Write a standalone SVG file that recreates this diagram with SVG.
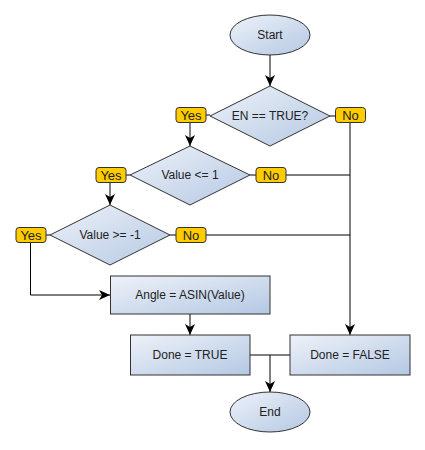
<svg xmlns="http://www.w3.org/2000/svg" width="425" height="450" viewBox="0 0 425 450">
<defs>
<linearGradient id="g" x1="0" y1="0" x2="1" y2="1">
<stop offset="0" stop-color="#EEF2F9"/>
<stop offset="1" stop-color="#B4C8E3"/>
</linearGradient>
<marker id="arr" markerWidth="12" markerHeight="10" refX="11" refY="5" orient="auto" markerUnits="userSpaceOnUse">
<path d="M0,0 L11,5 L0,10 L3,5 z" fill="#000"/>
</marker>
<style>
.shape{fill:url(#g);stroke:#333;stroke-width:1}
.lbl{fill:#FFCC00;stroke:#333;stroke-width:1}
.t{font-family:"Liberation Sans",Arial,sans-serif;font-size:12px;fill:#222;text-anchor:middle;dominant-baseline:central}
.tl{font-size:13px}
.c{fill:none;stroke:#000;stroke-width:1}
.a{marker-end:url(#arr)}
</style>
</defs>
<rect width="425" height="450" fill="#fff"/>
<g id="connectors">
<path class="c a" d="M270,55 V86"/>
<path class="c" d="M206,115 H210"/>
<path class="c a" d="M190,122 V146"/>
<path class="c" d="M330,116 H335"/>
<path class="c a" d="M350,122 V335"/>
<path class="c" d="M126,175 H130"/>
<path class="c" d="M250,175 H256"/>
<path class="c" d="M286,175 H350"/>
<path class="c a" d="M110,182 V205"/>
<path class="c" d="M46,235 H50"/>
<path class="c" d="M170,235 H176"/>
<path class="c" d="M206,235 H350"/>
<path class="c a" d="M30.5,242 V295 H110"/>
<path class="c a" d="M190,314 V335"/>
<path class="c" d="M250,355 H290"/>
<path class="c a" d="M270,355 V392"/>
</g>
<g id="start"><ellipse class="shape" cx="270" cy="35" rx="40" ry="20"/><text class="t" x="270" y="35">Start</text></g>
<g id="d1"><polygon class="shape" points="270,86 330,116 270,146 210,116"/><text class="t" x="270" y="116">EN == TRUE?</text></g>
<g id="yes1"><rect class="lbl" x="176" y="107.5" width="30" height="15" rx="3"/><text class="t tl" x="191" y="115">Yes</text></g>
<g id="no1"><rect class="lbl" x="335.5" y="107.5" width="30" height="15" rx="3"/><text class="t tl" x="350.5" y="115">No</text></g>
<g id="d2"><polygon class="shape" points="190,146 250,175 190,205 130,175"/><text class="t" x="190" y="175">Value &lt;= 1</text></g>
<g id="yes2"><rect class="lbl" x="96" y="167.5" width="30" height="15" rx="3"/><text class="t tl" x="111" y="175">Yes</text></g>
<g id="no2"><rect class="lbl" x="256" y="167.5" width="30" height="15" rx="3"/><text class="t tl" x="271" y="175">No</text></g>
<g id="d3"><polygon class="shape" points="110,205 170,235 110,265 50,235"/><text class="t" x="110" y="235">Value &gt;= -1</text></g>
<g id="yes3"><rect class="lbl" x="16" y="227.5" width="30" height="15" rx="3"/><text class="t tl" x="31" y="235">Yes</text></g>
<g id="no3"><rect class="lbl" x="176" y="227.5" width="30" height="15" rx="3"/><text class="t tl" x="191" y="235">No</text></g>
<g id="angle"><rect class="shape" x="110.5" y="276" width="159.5" height="38"/><text class="t" x="190" y="295">Angle = ASIN(Value)</text></g>
<g id="donetrue"><rect class="shape" x="130.5" y="335" width="119.5" height="40"/><text class="t" x="190" y="355">Done = TRUE</text></g>
<g id="donefalse"><rect class="shape" x="290" y="335" width="120" height="40"/><text class="t" x="350" y="355">Done = FALSE</text></g>
<g id="end"><ellipse class="shape" cx="270" cy="412" rx="40" ry="20"/><text class="t" x="270" y="412">End</text></g>
</svg>
